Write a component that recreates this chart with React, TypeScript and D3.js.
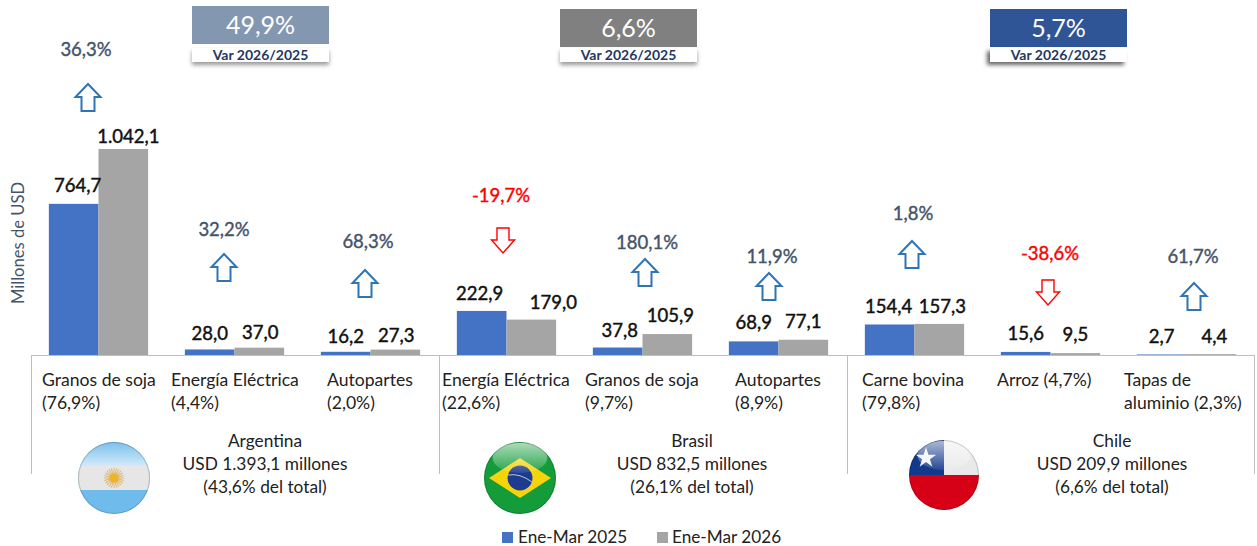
import React from "react";
import * as d3 from "d3";

// Data
const categories = [
  "Granos de soja", "Energía Eléctrica", "Autopartes",
  "Energía Eléctrica ", "Granos de soja ", "Autopartes ",
  "Carne bovina", "Arroz", "Tapas de aluminio",
];
const seriesNames = ["Ene-Mar 2025", "Ene-Mar 2026"];
const values2025 = [764.7, 28.0, 16.2, 222.9, 37.8, 68.9, 154.4, 15.6, 2.7];
const values2026 = [1042.1, 37.0, 27.3, 179.0, 105.9, 77.1, 157.3, 9.5, 4.4];
const variations = ["36,3%", "32,2%", "68,3%", "-19,7%", "180,1%", "11,9%", "1,8%", "-38,6%", "61,7%"];
const categoryLabels = [
  ["Granos de soja", "(76,9%)"],
  ["Energía Eléctrica", "(4,4%)"],
  ["Autopartes", "(2,0%)"],
  ["Energía Eléctrica", "(22,6%)"],
  ["Granos de soja", "(9,7%)"],
  ["Autopartes", "(8,9%)"],
  ["Carne bovina", "(79,8%)"],
  ["Arroz (4,7%)"],
  ["Tapas de", "aluminio (2,3%)"],
];
const countries = [
  ["Argentina", "USD 1.393,1 millones", "(43,6% del total)"],
  ["Brasil", "USD 832,5 millones", "(26,1% del total)"],
  ["Chile", "USD 209,9 millones", "(6,6% del total)"],
];
const countryVars = ["49,9%", "6,6%", "5,7%"];

// Layout, hand placed annotations
const W = 1257;
const H = 546;
const base = 355;
const colors = ["#4472c4", "#a5a5a5"];
const labelNudge = [
  [[4, -12], [5, -6]], [[0, -9], [1, -9]], [[0, -9], [1, -8]],
  [[-2, -11], [22, -11]], [[2, -11], [3, -12]], [[0, -12], [0, -12]],
  [[-1, -11], [3, -11]], [[0, -12], [0, -12]], [[0, -11], [3, -11]],
];
const arrowX = [88, 224, 365, 503, 645, 769, 912, 1048, 1194];
const arrowTop = [84, 254, 270, 228, 259, 273, 241, 280, 283];
const varX = [86, 224, 368, 501, 647, 772, 913, 1050, 1193];
const varY = [56, 236, 248, 202, 249, 263, 220, 260, 263];
const labelX = [42, 171, 327, 442, 585, 735, 862, 997, 1124];
const dividers = [31, 439, 847, 1254];
const countryX = [265, 692, 1112];
const boxX = [192, 560, 990];
const boxY = [6, 9, 9];
const boxFill = ["#8497b0", "#808080", "#2f5597"];
const flagX = [114, 520, 944];
const flagY = [478, 478, 475];
const flagR = [36, 36, 35];

const fontFamily = "Lato, 'Open Sans', sans-serif";

const x0 = d3.scaleBand<number>().domain(d3.range(categories.length)).range([30.5, 1254.5]).paddingInner(0.27).paddingOuter(0.135);
const x1 = d3.scaleBand<number>().domain([0, 1]).range([0, x0.bandwidth()]);
const y = d3.scaleLinear().domain([0, 1042.1]).range([base, 149]);

// Hollow block arrow pointing up or down
const arrowPath = (cx: number, top: number, down: boolean) => {
  const w = down ? 11.5 : 12.5;
  const s = down ? 6 : 6.5;
  const h = down ? 25 : 27;
  const neck = 13;
  const pts: [number, number][] = down
    ? [[-s, 0], [s, 0], [s, h - neck], [w, h - neck], [0, h], [-w, h - neck], [-s, h - neck]]
    : [[0, 0], [w, neck], [s, neck], [s, h], [-s, h], [-s, neck], [-w, neck]];
  return d3.line()(pts.map(([a, b]) => [cx + a, top + b] as [number, number])) + "Z";
};

const Flag = ({ i }: { i: number }) => {
  const cx = flagX[i];
  const cy = flagY[i];
  const r = flagR[i];
  const rays = d3.range(24).map((k) => (k * 360) / 24);
  return (
    <g>
      <clipPath id={`flag-${i}`}>
        <circle cx={cx} cy={cy} r={r} />
      </clipPath>
      <g clipPath={`url(#flag-${i})`}>
        {i === 0 && (
          <g>
            <rect x={cx - r} y={cy - r} width={2 * r} height={2 * r} fill="#6fbcec" />
            <rect x={cx - r} y={cy - r} width={2 * r} height={r - 12} fill="url(#skyTop)" />
            <rect x={cx - r} y={cy - 12} width={2 * r} height={24} fill="#e6e6e6" />
            {rays.map((a) => (
              <line key={a} x1={cx} y1={cy} x2={cx} y2={cy - 10} stroke="#d9a441" strokeOpacity={0.7} strokeWidth={1} transform={`rotate(${a} ${cx} ${cy})`} />
            ))}
            <circle cx={cx} cy={cy} r={4.5} fill="#f0b323" />
          </g>
        )}
        {i === 1 && (
          <g>
            <rect x={cx - r} y={cy - r} width={2 * r} height={2 * r} fill="#149b3a" />
            <path d={`M${cx - 31},${cy}L${cx},${cy - 20}L${cx + 31},${cy}L${cx},${cy + 20}Z`} fill="#f6d40b" />
            <circle cx={cx} cy={cy} r={12.5} fill="#1d3c8f" />
            <path d={`M${cx - 12},${cy - 3}Q${cx},${cy - 5} ${cx + 12},${cy + 4}`} fill="none" stroke="#e8e8e8" strokeWidth={0.8} />
          </g>
        )}
        {i === 2 && (
          <g>
            <rect x={cx - r} y={cy - r} width={2 * r} height={r} fill="#e9e9e9" />
            <rect x={cx - r} y={cy - r} width={r} height={r} fill="#123a8c" />
            <rect x={cx - r} y={cy} width={2 * r} height={r} fill="#d60017" />
            <path d={d3.symbol(d3.symbolStar, 130)() as string} transform={`translate(${cx - 18},${cy - 17})`} fill="#f2f2f2" />
          </g>
        )}
        {i !== 0 && (
          <ellipse cx={cx} cy={cy - r * 0.56} rx={r * 0.76} ry={r * 0.42} fill="url(#gloss)" />
        )}
      </g>
      <circle cx={cx} cy={cy} r={r - 0.5} fill="none" stroke="#000" strokeOpacity={0.18} strokeWidth={1} />
    </g>
  );
};

export default function App() {
  const groups = [values2025, values2026];
  return (
    <svg
      width={W}
      height={H}
      viewBox={`0 0 ${W} ${H}`}
      style={{ position: "absolute", left: 0, top: 0, background: "#fff" }}
      fontFamily={fontFamily}
    >
      <defs>
        <linearGradient id="gloss" x1="0" y1="0" x2="0" y2="1">
          <stop offset="0" stopColor="#fff" stopOpacity={0.65} />
          <stop offset="1" stopColor="#fff" stopOpacity={0.08} />
        </linearGradient>
        <linearGradient id="skyTop" x1="0" y1="0" x2="0" y2="1">
          <stop offset="0" stopColor="#7cc0ea" />
          <stop offset="1" stopColor="#d3eafa" />
        </linearGradient>
        <filter id="boxShadow" x="-10%" y="-40%" width="120%" height="200%">
          <feDropShadow dx={0} dy={3} stdDeviation={2} floodColor="#000" floodOpacity={0.4} />
        </filter>
        <filter id="boxShadowDark" x="-10%" y="-40%" width="120%" height="200%">
          <feDropShadow dx={-3} dy={3} stdDeviation={2} floodColor="#000" floodOpacity={0.6} />
        </filter>
      </defs>

      {/* Axis title */}
      <text
        transform="translate(24,243) rotate(-90)"
        textAnchor="middle"
        fontSize={16.6}
        fill="#44546a"
      >
        Millones de USD
      </text>

      {/* Bars */}
      {groups.map((vals, s) =>
        vals.map((v, i) => (
          <rect
            key={`${s}-${i}`}
            x={(x0(i) as number) + (x1(s) as number)}
            y={y(v)}
            width={x1.bandwidth()}
            height={base - y(v)}
            fill={colors[s]}
          />
        ))
      )}

      {/* Baseline and dividers */}
      <line x1={31} x2={1254} y1={base + 0.5} y2={base + 0.5} stroke="#bfbfbf" />
      {dividers.map((d) => (
        <line key={d} x1={d + 0.5} x2={d + 0.5} y1={base} y2={474} stroke="#bfbfbf" />
      ))}

      {/* Value labels, thin stroke stands in for a medium weight */}
      {groups.map((vals, s) =>
        vals.map((v, i) => (
          <text
            key={`${s}-${i}`}
            x={(x0(i) as number) + (x1(s) as number) + x1.bandwidth() / 2 + labelNudge[i][s][0]}
            y={y(v) + labelNudge[i][s][1]}
            textAnchor="middle"
            fontSize={18.5}
            fill="#111"
            stroke="#111"
            strokeWidth={0.45}
          >
            {d3.format(",.1f")(v).replace(",", "#").replace(".", ",").replace("#", ".")}
          </text>
        ))
      )}

      {/* Variation arrows */}
      {variations.map((t, i) => {
        const down = t.startsWith("-");
        const c = down ? "#ff0000" : "#44546a";
        return (
          <g key={i}>
            <text x={varX[i]} y={varY[i]} textAnchor="middle" fontSize={18.5} fill={c} stroke={c} strokeWidth={0.4}>
              {t}
            </text>
            <path
              d={arrowPath(arrowX[i], arrowTop[i], down)}
              fill="#fff"
              stroke={down ? "#ff0000" : "#2e75b6"}
              strokeWidth={down ? 1.4 : 2}
            />
          </g>
        );
      })}

      {/* Category labels */}
      {categoryLabels.map((lines, i) => (
        <text key={i} fontSize={17.6} fill="#222">
          {lines.map((l, k) => (
            <tspan key={k} x={labelX[i]} y={386 + k * 23}>
              {l}
            </tspan>
          ))}
        </text>
      ))}

      {/* Country blocks */}
      {countries.map((lines, i) => (
        <g key={i}>
          <Flag i={i} />
          <text textAnchor="middle" fontSize={17.3} fill="#222">
            {lines.map((l, k) => (
              <tspan key={k} x={countryX[i]} y={447 + k * 23}>
                {l}
              </tspan>
            ))}
          </text>
        </g>
      ))}

      {/* Variation boxes */}
      {countryVars.map((t, i) => (
        <g key={i}>
          <rect x={boxX[i]} y={boxY[i]} width={137} height={38} fill={boxFill[i]} />
          <rect
            x={boxX[i]}
            y={48}
            width={137}
            height={14}
            fill="#fff"
            filter={i === 2 ? "url(#boxShadowDark)" : "url(#boxShadow)"}
          />
          <text x={boxX[i] + 68.5} y={boxY[i] + 28} textAnchor="middle" fontSize={25} fill="#fff">
            {t}
          </text>
          <text x={boxX[i] + 68.5} y={60} textAnchor="middle" fontSize={14} fontWeight={700} fill="#1f3864">
            Var 2026/2025
          </text>
        </g>
      ))}

      {/* Legend */}
      {seriesNames.map((n, i) => (
        <g key={n}>
          <rect x={502 + i * 155} y={532} width={11} height={11} fill={colors[i]} />
          <text x={518 + i * 154} y={543} fontSize={17.2} fill="#222">
            {n}
          </text>
        </g>
      ))}
    </svg>
  );
}
